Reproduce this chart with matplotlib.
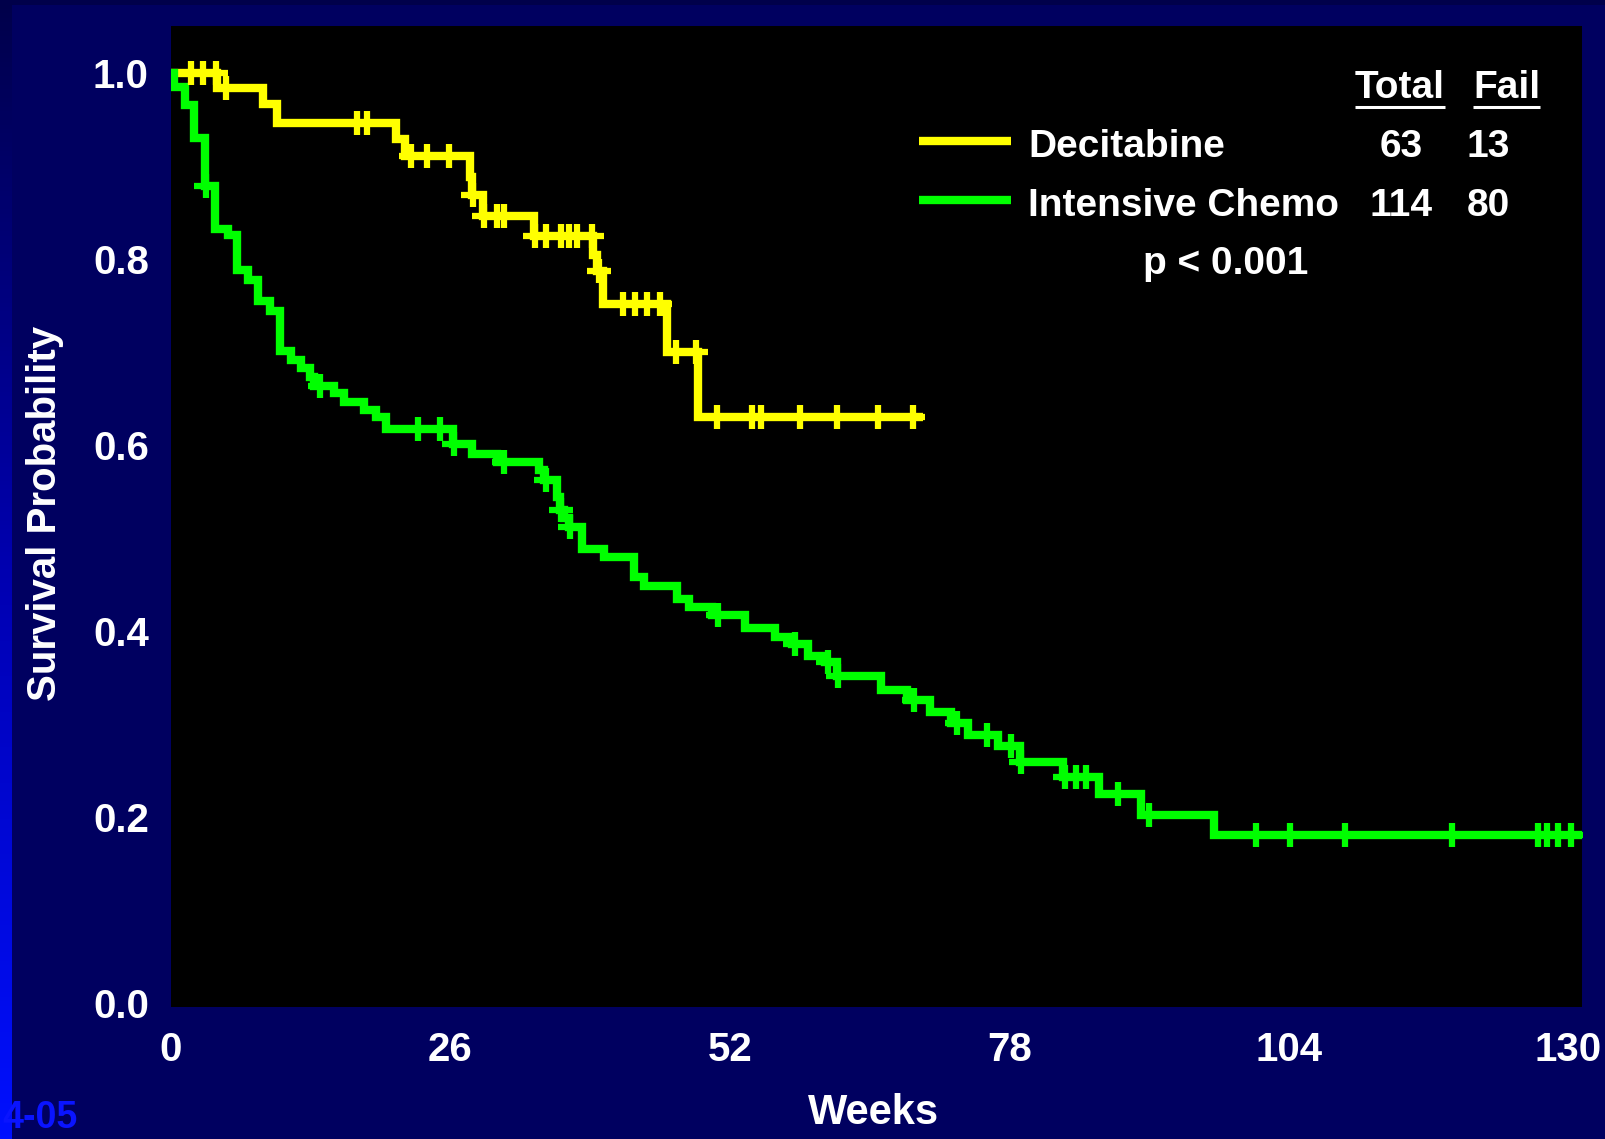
import numpy as np
import matplotlib
matplotlib.use("Agg")
import matplotlib.pyplot as plt
from matplotlib import font_manager as fm

# ---- data (weeks, survival probability) ----
dec_weeks = [0, 4.3, 8.6, 9.9, 20.9, 21.8, 27.8, 28.0, 29.0, 33.8, 39.3, 39.6,
             40.2, 46.2, 49.0, 70.0]
dec_surv = [1.0, 0.984, 0.967, 0.947, 0.929, 0.911, 0.889, 0.869, 0.847, 0.825,
            0.805, 0.787, 0.752, 0.700, 0.630, 0.630]
dec_censor = [1.9, 3.0, 4.2, 5.1, 17.3, 18.2, 22.3, 23.8, 25.9, 28.1, 29.1, 30.3,
              31.0, 33.9, 34.9, 36.3, 37.0, 37.8, 39.2, 39.8, 42.1, 43.2, 44.3,
              45.5, 47.0, 48.9, 50.8, 54.1, 54.9, 58.5, 62.0, 65.8, 69.0]

chemo_weeks = [0, 0.3, 1.3, 2.1, 3.2, 4.1, 5.3, 6.1, 7.2, 8.1, 9.2, 10.1, 11.2,
               12.1, 12.9, 13.3, 15.2, 16.1, 18.0, 19.1, 20.0, 26.2, 28.0, 30.3,
               34.2, 34.7, 35.9, 36.2, 36.6, 37.0, 38.2, 40.3, 43.1, 44.0, 47.1,
               48.2, 50.3, 53.4, 56.2, 57.8, 59.3, 60.9, 62.0, 66.1, 68.5, 70.6,
               72.6, 74.2, 77.0, 79.0, 83.0, 86.4, 90.3, 97.1, 132.0]
chemo_surv = [1.0, 0.985, 0.966, 0.931, 0.879, 0.833, 0.826, 0.789, 0.778, 0.755,
              0.744, 0.701, 0.692, 0.683, 0.674, 0.664, 0.656, 0.647, 0.638, 0.630,
              0.618, 0.601, 0.591, 0.582, 0.573, 0.563, 0.545, 0.531, 0.522, 0.512,
              0.489, 0.480, 0.458, 0.449, 0.435, 0.426, 0.418, 0.404, 0.394, 0.386,
              0.374, 0.367, 0.352, 0.337, 0.326, 0.313, 0.301, 0.288, 0.277, 0.260,
              0.2435, 0.2255, 0.2026, 0.181, 0.181]
chemo_censor = [3.3, 13.9, 23.0, 25.0, 26.3, 31.0, 34.9, 36.3, 37.1, 50.9, 58.1,
                61.1, 62.1, 69.1, 73.1, 75.9, 78.2, 79.1, 83.2, 84.2, 85.1, 88.1,
                91.0, 101.0, 104.1, 109.2, 119.2, 127.2, 128.0, 129.1, 130.3]

groups = ["Decitabine", "Intensive Chemo"]
totals = [63, 114]
fails = [13, 80]
p_text = "p < 0.001"
slide_tag = "4-05"
x_ticks = [0, 26, 52, 78, 104, 130]
y_ticks = [0.0, 0.2, 0.4, 0.6, 0.8, 1.0]

NAVY = "#000060"
YELLOW = "#FFFF00"
GREEN = "#00FF00"


def has_font(name):
    try:
        fm.findfont(fm.FontProperties(family=name), fallback_to_default=False)
        return True
    except ValueError:
        return False


if has_font("Liberation Sans Narrow"):
    NARROW, NARROW_SIZE = "Liberation Sans Narrow", 33
else:
    NARROW, NARROW_SIZE = "Liberation Sans", 28
BOLD = "Liberation Sans"


def surv_at(weeks, surv, t):
    i = np.searchsorted(weeks, t, side="right") - 1
    return np.asarray(surv)[i]


W, H = 1606, 1139
fig = plt.figure(figsize=(W / 100, H / 100), dpi=100, facecolor=NAVY)

# background strips: darker top band, blue gradient on the left edge
top = fig.add_axes([0, 1 - 5 / H, 1, 5 / H])
top.set_axis_off()
top.add_patch(plt.Rectangle((0, 0), 1, 1, color="#00004A", transform=top.transAxes))
left = fig.add_axes([0, 0, 12 / W, 1])
grad = np.linspace(0, 1, 256)[:, None]
left.imshow(grad, aspect="auto", cmap=matplotlib.colors.LinearSegmentedColormap.from_list(
    "strip", ["#00004A", "#0000B0", "#0010FF"]), extent=(0, 1, 0, 1), origin="upper")
left.set_axis_off()

ax = fig.add_axes([171 / W, 1 - 1007 / H, 1411 / W, 981 / H])
ax.set_facecolor("black")
for s in ax.spines.values():
    s.set_visible(False)

ax.step(dec_weeks, dec_surv, where="post", color=YELLOW, lw=6,
        solid_joinstyle="miter", solid_capstyle="butt", zorder=3)
ax.step(chemo_weeks, chemo_surv, where="post", color=GREEN, lw=6,
        solid_joinstyle="miter", solid_capstyle="butt", zorder=3)
ax.plot(dec_censor, surv_at(dec_weeks, dec_surv, dec_censor), "+", color=YELLOW,
        ms=17, mew=4.5, zorder=4)
ax.plot(chemo_censor, surv_at(chemo_weeks, chemo_surv, chemo_censor), "+",
        color=GREEN, ms=17, mew=4.5, zorder=4)

ax.set_xlim(0, 131.3)
ax.set_ylim(-0.004, 1.051)
ax.set_xticks(x_ticks)
ax.set_yticks(y_ticks)
ax.set_yticklabels([f"{v:.1f}" for v in y_ticks])
ax.tick_params(axis="both", length=0, colors="white", labelsize=29)
ax.tick_params(axis="x", pad=17)
ax.tick_params(axis="y", pad=16)
for lab in ax.get_xticklabels() + ax.get_yticklabels():
    lab.set_fontfamily(BOLD)
    lab.set_fontweight("bold")

fig.text(874 / W, 1 - 1113 / H, "Weeks", color="white", fontsize=30,
         fontweight="bold", family=BOLD, ha="center", va="center")
fig.text(45 / W, 1 - 513 / H, "Survival Probability", color="white", fontsize=29,
         fontweight="bold", family=BOLD, rotation=90, ha="center", va="center")
fig.text(2 / W, 3 / H, slide_tag, color="#0A14FF", fontsize=27,
         fontweight="bold", family=BOLD, ha="left", va="bottom", zorder=5)

# legend / summary table inside the plot
tk = dict(color="white", fontsize=NARROW_SIZE, fontweight="bold", family=NARROW,
          transform=ax.transAxes, va="baseline")
t_total = ax.text(0.871, 0.9263, "Total", ha="center", **tk)
t_fail = ax.text(0.9468, 0.9263, "Fail", ha="center", **tk)
rows_y = [0.8668, 0.8066]
line_y = [0.8823, 0.8231]
for name, tot, fl, col, yb, yl in zip(groups, totals, fails, [YELLOW, GREEN],
                                      rows_y, line_y):
    ax.plot([0.5301, 0.5950], [yl, yl], color=col, lw=6, transform=ax.transAxes,
            solid_capstyle="butt", zorder=5)
    ax.text(0.6074, yb, name, ha="left", **tk)
    ax.text(0.872, yb, str(tot), ha="center", **tk)
    ax.text(0.918, yb, str(fl), ha="left", **tk)
ax.text(0.7477, 0.7472, p_text, ha="center", **tk)

fig.canvas.draw()
renderer = fig.canvas.get_renderer()
inv = ax.transAxes.inverted()
for t in (t_total, t_fail):
    bb = t.get_window_extent(renderer)
    (x0, _), (x1, _) = inv.transform([(bb.x0, 0), (bb.x1, 0)])
    ax.plot([x0, x1], [0.9177, 0.9177], color="white", lw=2.2,
            transform=ax.transAxes, solid_capstyle="butt")

fig.savefig("out.png", dpi=100, facecolor=NAVY)
